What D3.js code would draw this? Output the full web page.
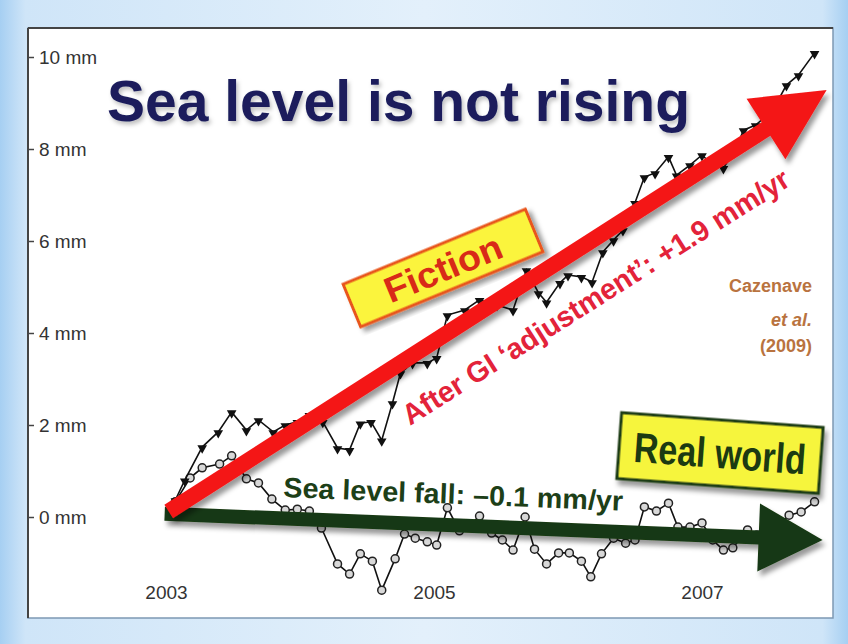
<html>
<head>
    <title>Sea level</title>
    <script src="https://d3js.org/d3.v7.min.js"></script>
    <style>
        body { margin: 0; }
        svg { display: block; }
        .tick text { font-family: "Liberation Sans", Arial, sans-serif; fill: #333; }
    </style>
</head>
<body>
<div id="chart"></div>
<script type="text/javascript">
    // data ******************************************
    // after GIA adjustment (triangles)
    var adjYear = [2003.07, 2003.14, 2003.27, 2003.39, 2003.49, 2003.60, 2003.69, 2003.80, 2003.89, 2003.98,
                   2004.07, 2004.17, 2004.28, 2004.37, 2004.45, 2004.53, 2004.61, 2004.69, 2004.75, 2004.84,
                   2004.95, 2005.02, 2005.10, 2005.23, 2005.34, 2005.47, 2005.59, 2005.69, 2005.78, 2005.84,
                   2005.94, 2006.00, 2006.10, 2006.18, 2006.26, 2006.34, 2006.41, 2006.50, 2006.57, 2006.65,
                   2006.75, 2006.81, 2006.91, 2007.00, 2007.08, 2007.16, 2007.25, 2007.31, 2007.40, 2007.49,
                   2007.57, 2007.63, 2007.72, 2007.84];
    var adjMm = [0.37, 0.80, 1.52, 1.85, 2.28, 1.89, 2.11, 1.85, 2.00, 2.07,
                 2.22, 2.07, 1.50, 1.46, 2.04, 2.07, 1.67, 2.48, 3.13, 3.35,
                 3.35, 3.46, 4.39, 4.50, 4.72, 4.61, 4.50, 5.37, 4.87, 4.67,
                 5.09, 5.26, 5.22, 5.11, 5.76, 6.02, 6.24, 6.83, 7.39, 7.48,
                 7.83, 7.43, 7.65, 7.87, 7.65, 7.59, 7.98, 8.41, 8.52, 8.74,
                 9.07, 9.39, 9.61, 10.09];

    // raw altimetry (circles)
    var rawYear = [2003.07, 2003.18, 2003.27, 2003.40, 2003.49, 2003.60, 2003.69, 2003.79, 2003.89, 2003.98,
                   2004.07, 2004.16, 2004.28, 2004.37, 2004.45, 2004.54, 2004.61, 2004.71, 2004.78, 2004.86,
                   2004.95, 2005.02, 2005.10, 2005.19, 2005.27, 2005.34, 2005.43, 2005.51, 2005.59, 2005.68,
                   2005.75, 2005.84, 2005.93, 2006.01, 2006.10, 2006.17, 2006.25, 2006.34, 2006.43, 2006.50,
                   2006.57, 2006.66, 2006.75, 2006.82, 2006.91, 2007.00, 2007.08, 2007.16, 2007.23, 2007.34,
                   2007.41, 2007.49, 2007.57, 2007.65, 2007.74, 2007.84];
    var rawMm = [0.33, 0.85, 1.07, 1.15, 1.33, 0.83, 0.74, 0.39, 0.15, 0.17,
                 0.13, -0.24, -1.02, -1.24, -0.80, -0.96, -1.59, -0.91, -0.37, -0.46,
                 -0.54, -0.61, 0.20, -0.30, -0.17, 0.02, -0.35, -0.50, -0.72, 0.00,
                 -0.70, -1.02, -0.78, -0.78, -0.96, -1.30, -0.80, -0.46, -0.57, -0.50,
                 0.22, 0.13, 0.30, -0.22, -0.22, -0.13, -0.50, -0.72, -0.67, -0.28,
                 -0.39, -0.28, -0.17, 0.04, 0.11, 0.33];

    var yTicks = [0, 2, 4, 6, 8, 10];
    var xTicks = [2003, 2005, 2007];

    // trend arrows [year, mm]
    var riseFrom = [2003.02, 0.12], riseTo = [2007.93, 9.28];
    var fallFrom = [2002.99, 0.07], fallTo = [2007.90, -0.50];

    // Global vars ***********************
    var W = 848, H = 644;
    var panel = {left: 28, top: 28, right: 833, bottom: 618};

    var x = d3.scaleLinear().domain([2003, 2007]).range([166, 702]);
    var y = d3.scaleLinear().domain([0, 10]).range([517, 57]);

    var svg = d3.select("#chart").append("svg")
        .attr("width", W)
        .attr("height", H);

    var defs = svg.append("defs");
    var bg = defs.append("linearGradient").attr("id", "bg");
    bg.append("stop").attr("offset", "0%").attr("stop-color", "#a6cff2");
    bg.append("stop").attr("offset", "3%").attr("stop-color", "#cfe5f8");
    bg.append("stop").attr("offset", "50%").attr("stop-color", "#e3f0fb");
    bg.append("stop").attr("offset", "97%").attr("stop-color", "#cfe5f8");
    bg.append("stop").attr("offset", "100%").attr("stop-color", "#a6cff2");

    var shadow = defs.append("filter").attr("id", "shadow")
        .attr("x", "-20%").attr("y", "-20%").attr("width", "140%").attr("height", "140%");
    shadow.append("feDropShadow")
        .attr("dx", 3).attr("dy", 5).attr("stdDeviation", 2.5)
        .attr("flood-color", "#000").attr("flood-opacity", 0.4);

    var soft = defs.append("filter").attr("id", "soft");
    soft.append("feDropShadow")
        .attr("dx", 2).attr("dy", 3).attr("stdDeviation", 2)
        .attr("flood-color", "#000").attr("flood-opacity", 0.25);

    // background frame
    svg.append("rect").attr("width", W).attr("height", H).attr("fill", "url(#bg)");
    svg.append("rect")
        .attr("x", panel.left).attr("y", panel.top)
        .attr("width", panel.right - panel.left)
        .attr("height", panel.bottom - panel.top)
        .attr("fill", "#fff")
        .attr("stroke", "#7d98b3")
        .attr("stroke-width", 1.5);
    svg.append("line")
        .attr("x1", panel.left).attr("x2", panel.right)
        .attr("y1", panel.top).attr("y2", panel.top)
        .attr("stroke", "#444").attr("stroke-width", 2);

    // y axis
    var yAxis = svg.append("g")
        .attr("transform", "translate(" + panel.left + ",0)")
        .call(d3.axisRight(y).tickValues(yTicks).tickSize(6).tickPadding(5)
            .tickFormat(function (d) { return d + " mm"; }));
    yAxis.select(".domain").remove();
    yAxis.selectAll(".tick line").attr("stroke", "#444").attr("stroke-width", 1.5);
    yAxis.selectAll(".tick text").style("font-size", "19px");
    svg.append("line")
        .attr("x1", panel.left).attr("x2", panel.left)
        .attr("y1", panel.top).attr("y2", panel.bottom)
        .attr("stroke", "#444").attr("stroke-width", 2);

    // x axis
    var xAxis = svg.append("g")
        .attr("transform", "translate(0,578)")
        .call(d3.axisBottom(x).tickValues(xTicks).tickSize(0).tickPadding(8)
            .tickFormat(d3.format("d")));
    xAxis.select(".domain").remove();
    xAxis.selectAll(".tick text").style("font-size", "19px");

    // series
    var adj = adjYear.map(function (d, i) { return [d, adjMm[i]]; });
    var raw = rawYear.map(function (d, i) { return [d, rawMm[i]]; });
    var line = d3.line()
        .x(function (d) { return x(d[0]); })
        .y(function (d) { return y(d[1]); });

    svg.append("path").datum(raw)
        .attr("fill", "none").attr("stroke", "#111").attr("stroke-width", 1.6)
        .attr("d", line);
    svg.selectAll("circle.raw").data(raw).enter().append("circle")
        .attr("class", "raw")
        .attr("cx", function (d) { return x(d[0]); })
        .attr("cy", function (d) { return y(d[1]); })
        .attr("r", 4)
        .attr("fill", "#d8d8d8").attr("stroke", "#222").attr("stroke-width", 1.5);

    svg.append("path").datum(adj)
        .attr("fill", "none").attr("stroke", "#111").attr("stroke-width", 1.6)
        .attr("d", line);
    var tri = d3.symbol().type(d3.symbolTriangle).size(40);
    svg.selectAll("path.adj").data(adj).enter().append("path")
        .attr("class", "adj")
        .attr("d", tri)
        .attr("fill", "#111")
        .attr("transform", function (d) {
            return "translate(" + x(d[0]) + "," + (y(d[1]) + 1) + ") rotate(180)";
        });

    // trend arrows
    function arrow(from, to, w, headLen, headHalf) {
        var x0 = x(from[0]), y0 = y(from[1]), x1 = x(to[0]), y1 = y(to[1]);
        var len = Math.hypot(x1 - x0, y1 - y0);
        var ux = (x1 - x0) / len, uy = (y1 - y0) / len;
        var nx = -uy, ny = ux;
        var bx = x1 - ux * headLen, by = y1 - uy * headLen;
        var pts = [
            [x0 + nx * w / 2, y0 + ny * w / 2],
            [bx + nx * w / 2, by + ny * w / 2],
            [bx + nx * headHalf, by + ny * headHalf],
            [x1, y1],
            [bx - nx * headHalf, by - ny * headHalf],
            [bx - nx * w / 2, by - ny * w / 2],
            [x0 - nx * w / 2, y0 - ny * w / 2]
        ];
        return "M" + pts.join("L") + "Z";
    }

    svg.append("path")
        .attr("d", arrow(fallFrom, fallTo, 14, 64, 34))
        .attr("fill", "#173912")
        .attr("filter", "url(#shadow)");
    svg.append("path")
        .attr("d", arrow(riseFrom, riseTo, 16, 72, 36))
        .attr("fill", "#f41717")
        .attr("filter", "url(#shadow)");

    // title
    svg.append("text")
        .attr("x", 107).attr("y", 121)
        .attr("textLength", 583).attr("lengthAdjust", "spacingAndGlyphs")
        .style("font-family", "'Liberation Sans Narrow', 'Liberation Sans', Arial, sans-serif")
        .style("font-weight", "bold").style("font-size", "58px")
        .attr("fill", "#1b1f5c")
        .attr("filter", "url(#soft)")
        .text("Sea level is not rising");

    // boxes
    function labelBox(cx, cy, w, h, angle, fill, stroke, color, size, len, label) {
        var g = svg.append("g")
            .attr("transform", "translate(" + cx + "," + cy + ") rotate(" + angle + ")");
        g.append("rect")
            .attr("x", -w / 2).attr("y", -h / 2)
            .attr("width", w).attr("height", h)
            .attr("fill", fill).attr("stroke", stroke).attr("stroke-width", 3)
            .attr("filter", "url(#shadow)");
        g.append("text")
            .attr("x", 0).attr("y", size * 0.36)
            .attr("text-anchor", "middle")
            .attr("textLength", len).attr("lengthAdjust", "spacingAndGlyphs")
            .style("font-family", "'Liberation Sans Narrow', 'Liberation Sans', Arial, sans-serif")
            .style("font-weight", "bold").style("font-size", size + "px")
            .attr("fill", color)
            .text(label);
    }
    labelBox(443, 268, 197, 46, -22.4, "#fbf43c", "#e8541a", "#d82a18", 36, 124, "Fiction");
    labelBox(720, 453, 202, 66, 4.2, "#f6f53e", "#1f3d16", "#1c3a12", 42, 172, "Real world");

    // trend labels
    svg.append("text")
        .attr("transform", "translate(410,426) rotate(-32.3)")
        .attr("textLength", 452).attr("lengthAdjust", "spacingAndGlyphs")
        .style("font-family", "'Liberation Sans Narrow', 'Liberation Sans', Arial, sans-serif")
        .style("font-weight", "bold").style("font-size", "29px")
        .attr("fill", "#e3233a")
        .text("After GI \u2018adjustment\u2019: +1.9 mm/yr");

    svg.append("text")
        .attr("transform", "translate(283,497) rotate(2.3)")
        .attr("textLength", 340).attr("lengthAdjust", "spacingAndGlyphs")
        .style("font-family", "'Liberation Sans Narrow', 'Liberation Sans', Arial, sans-serif")
        .style("font-weight", "bold").style("font-size", "28px")
        .attr("fill", "#1d3f18")
        .text("Sea level fall: \u20130.1 mm/yr");

    // source
    var src = svg.append("text")
        .attr("text-anchor", "end")
        .style("font-family", "'Liberation Sans Narrow', 'Liberation Sans', Arial, sans-serif")
        .style("font-weight", "bold").style("font-size", "18px")
        .attr("fill", "#b9733f");
    src.append("tspan").attr("x", 812).attr("y", 292).text("Cazenave");
    src.append("tspan").attr("x", 812).attr("y", 326).style("font-style", "italic").text("et al.");
    src.append("tspan").attr("x", 812).attr("y", 352).text("(2009)");
</script>
</body>
</html>
